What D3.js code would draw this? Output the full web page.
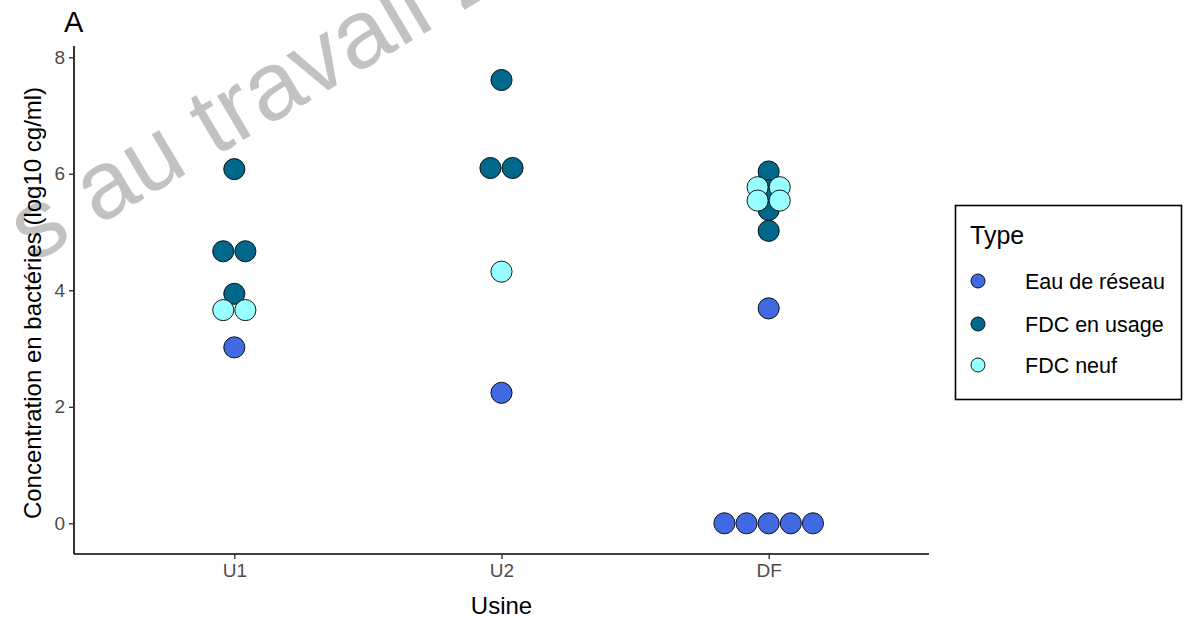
<!DOCTYPE html>
<html>
<head>
<meta charset="utf-8">
<script src="https://cdn.jsdelivr.net/npm/d3@7"></script>
<style>
  html, body { margin: 0; padding: 0; background: #fff; }
  svg { display: block; font-family: "Liberation Sans", Arial, sans-serif; }
</style>
</head>
<body>
<svg id="chart" width="1191" height="620"></svg>
<script>
// Usines (x categories) and sample types
const categories = ["U1", "U2", "DF"];
const types = ["Eau de réseau", "FDC en usage", "FDC neuf"];
const typeColors = ["#4169E1", "#00688B", "#97FFFF"];

// log10 concentrations per usine, one array per type
const eauReseau = { U1: [3.02], U2: [2.24], DF: [3.69, 0, 0, 0, 0, 0] };
const fdcUsage  = { U1: [6.08, 4.67, 4.67, 3.94], U2: [7.61, 6.10, 6.10], DF: [6.04, 5.72, 5.38, 5.02] };
const fdcNeuf   = { U1: [3.66, 3.66], U2: [4.32], DF: [5.77, 5.77, 5.54, 5.54] };

const yTicks = [0, 2, 4, 6, 8];
const yDomain = [-0.527, 8.194];
const binwidth = 0.38; // dot diameter in data units

const svg = d3.select("#chart");
const W = 1191, H = 620;
const m = { left: 74, right: 262, top: 46, bottom: 66 };
const x0 = m.left, x1 = W - m.right, yTop = m.top, yBot = H - m.bottom;

// Watermark behind the plot
svg.append("text")
  .attr("transform", "translate(33,264) rotate(-30.5)")
  .attr("font-size", 97)
  .attr("fill", "#c2c2c2")
  .text("s au travail 2");

const x = d3.scalePoint().domain(categories).range([x0, x1]).padding(0.6);
const y = d3.scaleLinear().domain(yDomain).range([yBot, yTop]);

// Build the dot table: equal values share a row, spread horizontally around the category
const series = [eauReseau, fdcUsage, fdcNeuf];
const dots = [];
series.forEach((s, ti) => {
  categories.forEach(cat => {
    const groups = d3.groups(s[cat], v => v);
    groups.forEach(([v, arr]) => {
      arr.forEach((_, i) => {
        dots.push({ cat, type: ti, value: v, slot: i - (arr.length - 1) / 2 });
      });
    });
  });
});

const dotPx = y(0) - y(binwidth);
const r = dotPx / 2 - 0.5;

svg.append("g")
  .selectAll("circle")
  .data(dots)
  .join("circle")
  .attr("cx", d => x(d.cat) + d.slot * dotPx)
  .attr("cy", d => y(d.value))
  .attr("r", r)
  .attr("fill", d => typeColors[d.type])
  .attr("stroke", "#000")
  .attr("stroke-width", 0.9);

// Axes
const yAxis = svg.append("g")
  .attr("transform", `translate(${x0},0)`)
  .call(d3.axisLeft(y).tickValues(yTicks).tickSize(5).tickPadding(4));
const xAxis = svg.append("g")
  .attr("transform", `translate(0,${yBot})`)
  .call(d3.axisBottom(x).tickSize(5).tickPadding(5));

[yAxis, xAxis].forEach(g => {
  g.attr("font-size", null).attr("font-family", null);
  g.select(".domain").attr("stroke", "#000").attr("stroke-width", 1.6);
  g.selectAll(".tick line").attr("stroke", "#333").attr("stroke-width", 1.4);
  g.selectAll(".tick text").attr("fill", "#4d4d4d").style("font-size", "19px");
});
yAxis.select(".domain").attr("d", `M0,${yTop}V${yBot}`);
xAxis.select(".domain").attr("d", `M${x0},0H${x1}`);

// Axis titles and tag
svg.append("text")
  .attr("x", (x0 + x1) / 2).attr("y", 614)
  .attr("text-anchor", "middle").attr("font-size", 24).attr("fill", "#000")
  .text("Usine");
svg.append("text")
  .attr("transform", `translate(41,${(yTop + yBot) / 2 + 3}) rotate(-90)`)
  .attr("text-anchor", "middle").attr("font-size", 24).attr("fill", "#000")
  .text("Concentration en bactéries (log10 cg/ml)");
svg.append("text")
  .attr("x", 64).attr("y", 32)
  .attr("font-size", 29).attr("fill", "#000")
  .text("A");

// Legend
const lg = svg.append("g");
lg.append("rect")
  .attr("x", 955.5).attr("y", 205.5).attr("width", 226).attr("height", 194)
  .attr("fill", "#fff").attr("stroke", "#000").attr("stroke-width", 1.6);
lg.append("text")
  .attr("x", 970).attr("y", 244).attr("font-size", 25).attr("fill", "#000")
  .text("Type");
const legendY = [281, 324, 365];
types.forEach((t, i) => {
  lg.append("circle")
    .attr("cx", 978).attr("cy", legendY[i]).attr("r", 7)
    .attr("fill", typeColors[i]).attr("stroke", "#000").attr("stroke-width", 0.9);
  lg.append("text")
    .attr("x", 1025).attr("y", legendY[i] + 7.5)
    .attr("font-size", 21.5).attr("fill", "#000")
    .text(t);
});
</script>
</body>
</html>
